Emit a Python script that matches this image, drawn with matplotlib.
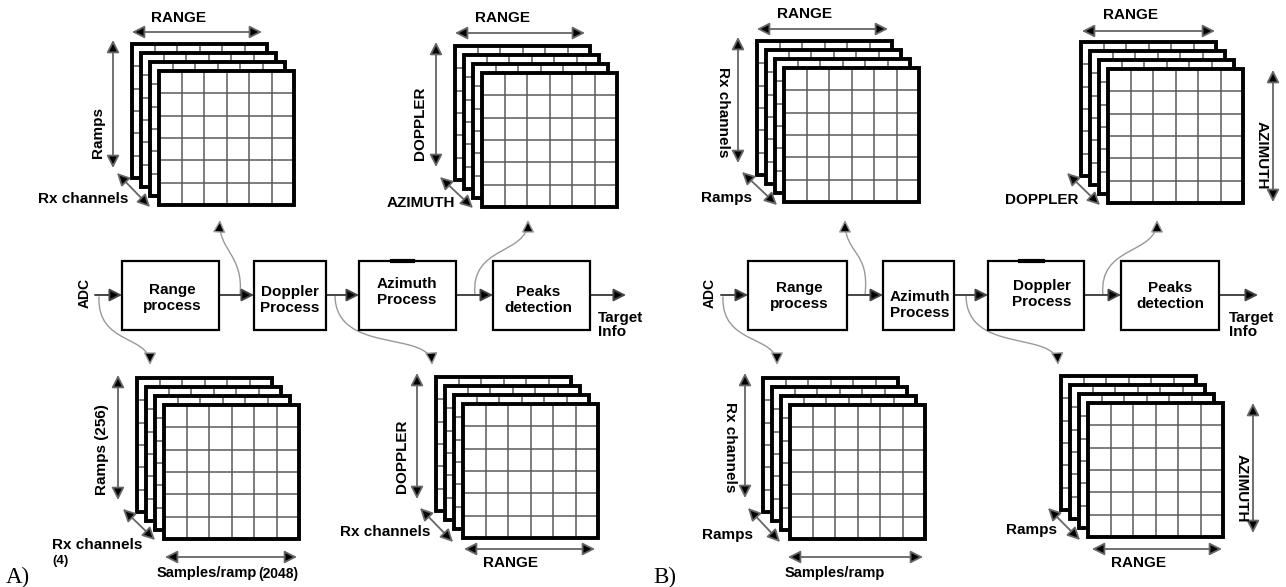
import matplotlib.pyplot as plt
from matplotlib.patches import Rectangle, FancyArrowPatch
from matplotlib.path import Path

plt.rcParams['font.family'] = ['Liberation Sans', 'DejaVu Sans']

# ---------------------------------------------
# Diagram content
# ---------------------------------------------
blocks_a = ["Range\nprocess", "Doppler\nProcess", "Azimuth\nProcess", "Peaks\ndetection"]
blocks_b = ["Range\nprocess", "Azimuth\nProcess", "Doppler\nProcess", "Peaks\ndetection"]
panel_names = ["A)", "B)"]
n_sheets = 4
n_cells = 6

# layout in pixel units (figure is 1286 x 587)
box_x_a = [(122, 219), (254, 326), (359, 456), (493, 590)]
box_x_b = [(748, 847), (883, 954), (988, 1084), (1121, 1219)]
box_text_a = [(172, 298), (290, 300), (407, 292), (538, 300)]
box_text_b = [(799, 296), (920, 305), (1042, 294), (1170, 296)]
box_top, box_bot, flow_y = 261, 330, 295

# front sheet top-left corners of the data cubes
stacks = [(159, 71), (482, 73), (164, 405), (463, 404),
          (784, 68), (1108, 69), (790, 405), (1088, 403)]
sheet_w, sheet_h, step = 135, 134, 9

# axis labels: text, x, y, rotation, ha, size
labels = [
    ("RANGE", 179, 18, 0, "center", 11), ("Ramps", 98, 132, 90, "center", 11),
    ("Rx channels", 128, 199, 0, "right", 11),
    ("RANGE", 503, 18, 0, "center", 11), ("DOPPLER", 420, 123, 90, "center", 11),
    ("AZIMUTH", 455, 203, 0, "right", 11),
    ("Ramps (256)", 102, 450, 90, "center", 11), ("Rx channels", 52, 545, 0, "left", 11),
    ("(4)", 52, 561, 0, "left", 9.5), ("Samples/ramp", 157, 573, 0, "left", 10.5),
    ("(2048)", 258, 574, 0, "left", 10),
    ("DOPPLER", 402, 456, 90, "center", 11), ("Rx channels", 430, 532, 0, "right", 11),
    ("RANGE", 510, 563, 0, "center", 11),
    ("RANGE", 805, 14, 0, "center", 11), ("Rx channels", 723, 112, 270, "center", 11),
    ("Ramps", 752, 198, 0, "right", 11),
    ("RANGE", 1130, 15, 0, "center", 11), ("AZIMUTH", 1262, 155, 270, "center", 11),
    ("DOPPLER", 1078, 200, 0, "right", 11),
    ("Rx channels", 730, 447, 270, "center", 11), ("Ramps", 753, 535, 0, "right", 11),
    ("Samples/ramp", 835, 573, 0, "center", 10.5),
    ("AZIMUTH", 1242, 488, 270, "center", 11), ("Ramps", 1057, 530, 0, "right", 11),
    ("RANGE", 1138, 563, 0, "center", 11),
]

# double headed dimension arrows
dims = [
    (132, 32, 262, 32), (113, 40, 113, 168), (117, 173, 150, 207),
    (455, 33, 585, 33), (436, 42, 436, 167), (440, 177, 473, 208),
    (118, 375, 118, 500), (123, 509, 155, 540), (165, 557, 297, 557),
    (417, 373, 417, 499), (420, 508, 453, 542), (464, 549, 595, 549),
    (757, 29, 888, 29), (738, 37, 738, 163), (742, 172, 777, 205),
    (1082, 31, 1215, 31), (1273, 70, 1273, 202), (1067, 173, 1100, 205),
    (745, 373, 745, 498), (748, 508, 780, 542), (788, 557, 923, 557),
    (1253, 403, 1253, 533), (1048, 508, 1080, 540), (1092, 549, 1222, 549),
]

# curved taps from the processing chain to the cubes (cubic bezier)
taps = [
    [(240, 295), (244, 255), (218, 250), (220, 220)],
    [(99, 297), (97, 345), (150, 335), (150, 365)],
    [(335, 295), (335, 355), (430, 330), (432, 365)],
    [(475, 295), (470, 245), (528, 255), (528, 220)],
    [(865, 295), (870, 250), (845, 255), (845, 220)],
    [(723, 297), (721, 345), (777, 335), (777, 365)],
    [(966, 295), (966, 355), (1056, 330), (1058, 365)],
    [(1103, 295), (1098, 245), (1157, 255), (1157, 220)],
]

fig = plt.figure(figsize=(12.86, 5.87), dpi=100)
ax = fig.add_axes([0, 0, 1, 1])
ax.set_xlim(0, 1286)
ax.set_ylim(587, 0)
ax.axis('off')

head = 'head_length=0.75,head_width=0.38'


def draw_stack(x0, y0):
    for k in range(n_sheets):
        off = (n_sheets - 1 - k) * step
        x, y = x0 - off, y0 - off
        z = 10 + 3 * k
        ax.add_patch(Rectangle((x, y), sheet_w, sheet_h, fc='white', ec='none', zorder=z))
        for i in range(1, n_cells):
            xi = x + sheet_w * i / n_cells
            yi = y + sheet_h * i / n_cells
            ax.plot([xi, xi], [y, y + sheet_h], color='#5a5a5a', lw=1.1, zorder=z + 1)
            ax.plot([x, x + sheet_w], [yi, yi], color='#5a5a5a', lw=1.1, zorder=z + 1)
        ax.add_patch(Rectangle((x, y), sheet_w, sheet_h, fill=False, ec='black',
                               lw=2.8, zorder=z + 2))


for sx, sy in stacks:
    draw_stack(sx, sy)

# processing chains
for names, xs, txt in [(blocks_a, box_x_a, box_text_a), (blocks_b, box_x_b, box_text_b)]:
    for name, (x1, x2), (tx, ty) in zip(names, xs, txt):
        ax.add_patch(Rectangle((x1, box_top), x2 - x1, box_bot - box_top,
                               fc='white', ec='black', lw=1.6, zorder=5))
        ax.text(tx, ty, name, ha='center', va='center', fontsize=11,
                fontweight='bold', zorder=6)

flows = [(95, 122), (219, 254), (326, 359), (456, 493), (590, 626),
         (721, 748), (847, 883), (954, 988), (1084, 1121), (1219, 1258)]
for x1, x2 in flows:
    ax.add_patch(FancyArrowPatch((x1, flow_y), (x2, flow_y), arrowstyle='-|>,' + head,
                                 mutation_scale=10, lw=1.4, ec='#444444', fc='black',
                                 shrinkA=0, shrinkB=0, zorder=4))

for x1, y1, x2, y2 in dims:
    ax.add_patch(FancyArrowPatch((x1, y1), (x2, y2), arrowstyle='<|-|>,' + head,
                                 mutation_scale=10, lw=1.3, ec='#666666', fc='black',
                                 shrinkA=0, shrinkB=0, zorder=30))

for pts in taps:
    p = Path(pts, [Path.MOVETO, Path.CURVE4, Path.CURVE4, Path.CURVE4])
    ax.add_patch(FancyArrowPatch(path=p, arrowstyle='-|>,' + head, mutation_scale=10,
                                 lw=1.0, ec='#999999', fc='black', zorder=3))

for t, x, y, rot, ha, fs in labels:
    ax.text(x, y, t, rotation=rot, ha=ha, va='center', fontsize=fs,
            fontweight='bold', zorder=40)

# chain inputs / outputs
for x in (85, 710):
    ax.text(x, 293, "ADC", rotation=90, ha='center', va='center', fontsize=10,
            fontweight='bold')
for x in (598, 1229):
    ax.text(x, 325, "Target\nInfo", ha='left', va='center', fontsize=11,
            fontweight='bold', linespacing=1.05)

# small marks on top of the middle blocks
ax.plot([392, 413], [box_top, box_top], color='black', lw=3, zorder=7)
ax.plot([1020, 1043], [box_top, box_top], color='black', lw=3, zorder=7)

for name, x in zip(panel_names, (6, 653)):
    ax.text(x, 577, name, ha='left', va='center', fontsize=16.5,
            family=['Liberation Serif', 'DejaVu Serif'])

fig.savefig('out.png', dpi=100, facecolor='white')
